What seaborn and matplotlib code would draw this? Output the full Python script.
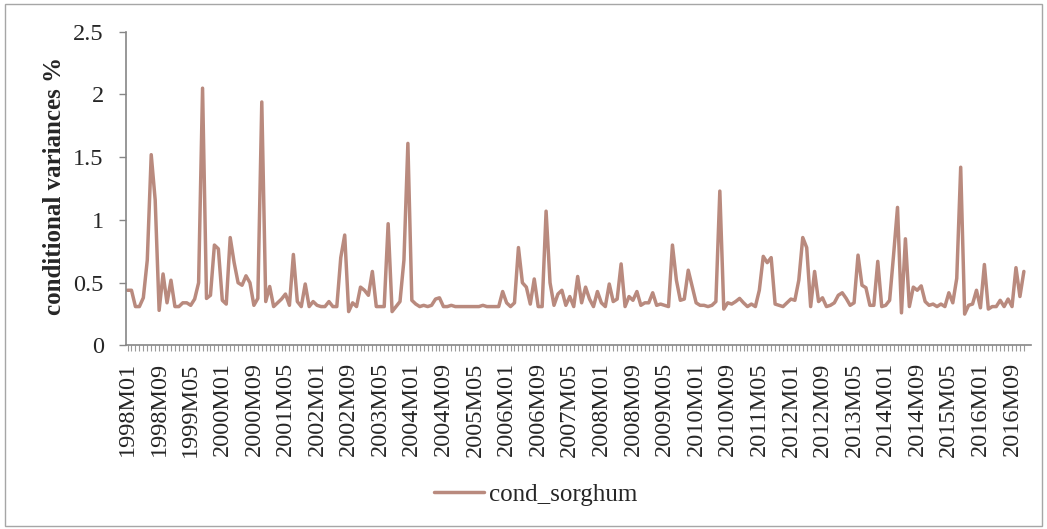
import matplotlib.pyplot as plt
import matplotlib.patches as mpatches
import pandas as pd
import seaborn as sns

# monthly categories 1998M01 .. 2016M12
months = [f"{p.year}M{p.month:02d}" for p in pd.period_range("1998-01", "2016-12", freq="M")]

cond_sorghum = [
    # 1998
    0.44, 0.44, 0.31, 0.31, 0.38, 0.68, 1.52, 1.16, 0.28, 0.57, 0.34, 0.52,
    # 1999
    0.31, 0.31, 0.34, 0.34, 0.32, 0.37, 0.50, 2.05, 0.375, 0.40, 0.80, 0.77,
    # 2000
    0.36, 0.33, 0.86, 0.66, 0.50, 0.48, 0.555, 0.50, 0.32, 0.375, 1.94, 0.35,
    # 2001
    0.47, 0.31, 0.34, 0.37, 0.41, 0.32, 0.725, 0.35, 0.31, 0.49, 0.31, 0.35,
    # 2002
    0.32, 0.31, 0.31, 0.35, 0.31, 0.31, 0.70, 0.88, 0.27, 0.34, 0.31, 0.465,
    # 2003
    0.44, 0.40, 0.59, 0.31, 0.31, 0.31, 0.97, 0.27, 0.31, 0.35, 0.68, 1.61,
    # 2004
    0.36, 0.33, 0.31, 0.32, 0.31, 0.32, 0.37, 0.38, 0.31, 0.31, 0.32, 0.31,
    # 2005
    0.31, 0.31, 0.31, 0.31, 0.31, 0.31, 0.32, 0.31, 0.31, 0.31, 0.31, 0.43,
    # 2006
    0.34, 0.31, 0.34, 0.78, 0.50, 0.465, 0.33, 0.53, 0.31, 0.31, 1.07, 0.50,
    # 2007
    0.32, 0.41, 0.44, 0.32, 0.39, 0.31, 0.55, 0.34, 0.465, 0.37, 0.31, 0.43,
    # 2008
    0.34, 0.31, 0.49, 0.35, 0.37, 0.65, 0.31, 0.39, 0.36, 0.43, 0.32, 0.34,
    # 2009
    0.34, 0.42, 0.32, 0.33, 0.32, 0.31, 0.80, 0.52, 0.36, 0.37, 0.60, 0.47,
    # 2010
    0.34, 0.32, 0.32, 0.31, 0.32, 0.35, 1.23, 0.29, 0.34, 0.33, 0.35, 0.375,
    # 2011
    0.34, 0.31, 0.33, 0.31, 0.44, 0.71, 0.66, 0.70, 0.33, 0.32, 0.31, 0.34,
    # 2012
    0.37, 0.36, 0.52, 0.86, 0.78, 0.31, 0.59, 0.35, 0.38, 0.31, 0.32, 0.34,
    # 2013
    0.40, 0.42, 0.375, 0.32, 0.34, 0.72, 0.48, 0.46, 0.32, 0.32, 0.67, 0.31,
    # 2014
    0.32, 0.36, 0.72, 1.10, 0.26, 0.85, 0.31, 0.465, 0.44, 0.475, 0.35, 0.32,
    # 2015
    0.33, 0.31, 0.33, 0.31, 0.42, 0.34, 0.535, 1.42, 0.25, 0.32, 0.33, 0.44,
    # 2016
    0.30, 0.645, 0.29, 0.31, 0.31, 0.36, 0.31, 0.37, 0.31, 0.62, 0.39, 0.59,
]

y_ticks = [0, 0.5, 1, 1.5, 2, 2.5]
y_tick_labels = ["0", "0.5", "1", "1.5", "2", "2.5"]
label_step = 8


def main():
    df = pd.DataFrame({"month": months, "cond_sorghum": cond_sorghum})
    df["pos"] = range(len(df))

    sns.set_style("white")
    plt.rcParams["font.family"] = ["Liberation Serif", "DejaVu Serif"]

    fig = plt.figure(figsize=(10.47, 5.29), dpi=100)
    ax = fig.add_axes([0.1203, 0.3469, 0.8644, 0.5932])

    sns.lineplot(data=df, x="pos", y="cond_sorghum", color="#B98A7E",
                 linewidth=2.5, ax=ax, label="cond_sorghum")

    ax.set_xlim(-0.4, len(df) + 0.8)
    ax.set_ylim(0, 2.5)

    # y axis
    ax.set_yticks(y_ticks)
    ax.set_yticklabels(y_tick_labels, fontsize=17.5)
    ax.tick_params(axis="y", length=5, width=1, color="#868686", pad=11, left=True)
    ax.set_ylabel("conditional variances %", fontsize=18, fontweight="bold")
    ax.yaxis.set_label_coords(-0.066, 0.51)

    # x axis: label every 8 months, small tick every month
    ax.set_xticks(df["pos"][::label_step])
    ax.set_xticklabels(df["month"][::label_step], rotation=90, fontsize=17.5)
    ax.set_xticks(df["pos"], minor=True)
    ax.tick_params(axis="x", which="both", length=4, width=0.8, color="#9a9a9a",
                   bottom=True, pad=8)
    ax.set_xlabel("")

    for side in ["top", "right"]:
        ax.spines[side].set_visible(False)
    for side in ["left", "bottom"]:
        ax.spines[side].set_color("#868686")
        ax.spines[side].set_linewidth(1.2)

    # Legend below
    ax.legend(loc="center", bbox_to_anchor=(0.512, 0.0643), bbox_transform=fig.transFigure,
              frameon=False, fontsize=18, handlelength=2.0, handletextpad=0.2)

    # chart border
    fig.patches.append(mpatches.Rectangle((5 / 1047, 3 / 529), 1037 / 1047, 522 / 529,
                                          transform=fig.transFigure, fill=False,
                                          edgecolor="#a6a6a6", linewidth=1))

    fig.savefig("out.png", dpi=100)


if __name__ == "__main__":
    main()
